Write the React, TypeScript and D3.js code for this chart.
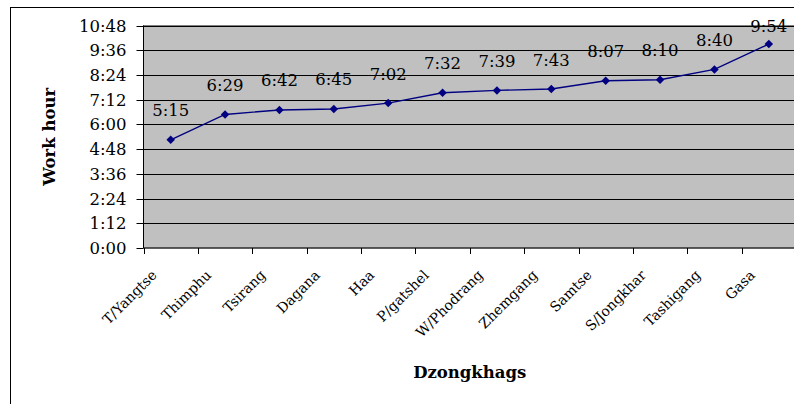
import { useEffect, useRef } from 'react';
import * as d3 from 'd3';

const DISTRICTS = [
  'T/Yangtse', 'Thimphu', 'Tsirang', 'Dagana', 'Haa', 'P/gatshel',
  'W/Phodrang', 'Zhemgang', 'Samtse', 'S/Jongkhar', 'Tashigang', 'Gasa',
];
const WORK_HOURS = [
  '5:15', '6:29', '6:42', '6:45', '7:02', '7:32',
  '7:39', '7:43', '8:07', '8:10', '8:40', '9:54',
];
const Y_TICKS = ['0:00', '1:12', '2:24', '3:36', '4:48', '6:00', '7:12', '8:24', '9:36', '10:48'];

const WIDTH = 794;
const HEIGHT = 404;
const FONT = '"DejaVu Serif", serif';

const toMinutes = (s: string) => {
  const [h, m] = s.split(':').map(Number);
  return h * 60 + m;
};

export default function App() {
  const svgRef = useRef<SVGSVGElement | null>(null);

  useEffect(() => {
    if (!svgRef.current) return;
    const svg = d3.select(svgRef.current);
    svg.selectAll('*').remove();

    const left = 143.5;
    const right = 796;
    const top = 25.5;
    const bottom = 248;

    // outer chart border (right & bottom edges fall off the page)
    svg.append('rect')
      .attr('x', 10.5).attr('y', 7.5)
      .attr('width', 800).attr('height', 420)
      .attr('fill', '#fff').attr('stroke', '#000').attr('stroke-width', 1);

    const x = d3.scaleBand<string>().domain(DISTRICTS).range([left, right]);
    const yMax = toMinutes(Y_TICKS[Y_TICKS.length - 1]);
    const y = d3.scaleLinear().domain([0, yMax]).range([bottom, top]);

    svg.append('rect')
      .attr('x', left).attr('y', top)
      .attr('width', right - left).attr('height', bottom - top)
      .attr('fill', '#c0c0c0').attr('stroke', '#808080');

    // gridlines
    svg.append('g')
      .selectAll('line')
      .data(Y_TICKS.slice(1))
      .join('line')
      .attr('x1', left).attr('x2', right)
      .attr('y1', d => Math.round(y(toMinutes(d))) + 0.5)
      .attr('y2', d => Math.round(y(toMinutes(d))) + 0.5)
      .attr('stroke', '#000').attr('stroke-width', 1);

    // y axis
    const yAxis = svg.append('g').attr('transform', `translate(${left},0)`);
    yAxis.append('line').attr('y1', top).attr('y2', bottom).attr('stroke', '#000');
    const yt = yAxis.selectAll('g.tick')
      .data(Y_TICKS)
      .join('g')
      .attr('class', 'tick')
      .attr('transform', d => `translate(0,${Math.round(y(toMinutes(d))) + 0.5})`);
    yt.append('line').attr('x1', -7).attr('x2', 0).attr('stroke', '#000');
    yt.append('text')
      .attr('x', -17).attr('dy', '0.36em')
      .attr('text-anchor', 'end')
      .style('font-family', FONT).style('font-size', '16.5px')
      .attr('fill', '#000')
      .text(d => d);

    // x axis
    const xAxis = svg.append('g').attr('transform', `translate(0,${bottom})`);
    xAxis.append('line').attr('x1', left).attr('x2', right).attr('stroke', '#000');
    xAxis.selectAll('line.tk')
      .data(DISTRICTS)
      .join('line')
      .attr('class', 'tk')
      .attr('x1', d => Math.round(x(d)!) + 0.5).attr('x2', d => Math.round(x(d)!) + 0.5)
      .attr('y1', 0).attr('y2', 6)
      .attr('stroke', '#000');
    xAxis.selectAll('text')
      .data(DISTRICTS)
      .join('text')
      .attr('transform', d => `translate(${x(d)! + x.bandwidth() / 2 - 13},28) rotate(-45)`)
      .attr('text-anchor', 'end')
      .style('font-family', FONT).style('font-size', '14px')
      .attr('fill', '#000')
      .text(d => d);

    // axis titles
    svg.append('text')
      .attr('x', (left + right) / 2).attr('y', 378)
      .attr('text-anchor', 'middle')
      .style('font-family', FONT).style('font-size', '16.5px').style('font-weight', 'bold')
      .text('Dzongkhags');
    svg.append('text')
      .attr('transform', `translate(55,${(top + bottom) / 2}) rotate(-90)`)
      .attr('text-anchor', 'middle')
      .style('font-family', FONT).style('font-size', '16.5px').style('font-weight', 'bold')
      .text('Work hour');

    // series
    const cx = (i: number) => x(DISTRICTS[i])! + x.bandwidth() / 2;
    const line = d3.line<string>()
      .x((_, i) => cx(i))
      .y(d => y(toMinutes(d)));
    svg.append('path')
      .datum(WORK_HOURS)
      .attr('d', line)
      .attr('fill', 'none').attr('stroke', '#000080').attr('stroke-width', 1.4);

    const marker = d3.symbol().type(d3.symbolSquare).size(36);
    svg.append('g')
      .selectAll('path')
      .data(WORK_HOURS)
      .join('path')
      .attr('d', marker)
      .attr('transform', (d, i) => `translate(${cx(i)},${y(toMinutes(d))}) rotate(45)`)
      .attr('fill', '#000080');

    svg.append('g')
      .selectAll('text')
      .data(WORK_HOURS)
      .join('text')
      .attr('x', (_, i) => cx(i))
      .attr('y', d => Math.max(y(toMinutes(d)) - 23.5, 31.5))
      .attr('text-anchor', 'middle')
      .style('font-family', FONT).style('font-size', '16.5px')
      .attr('fill', '#000')
      .text(d => d);
  }, []);

  return (
    <svg
      ref={svgRef}
      width={WIDTH}
      height={HEIGHT}
      style={{ position: 'absolute', left: 0, top: 0, display: 'block', background: '#fff' }}
    />
  );
}
